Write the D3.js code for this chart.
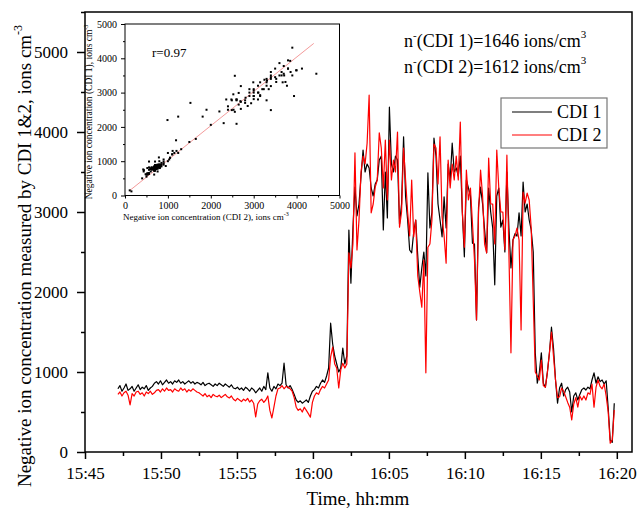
<!DOCTYPE html>
<html>
<head>
<meta charset="utf-8">
<script src="https://cdn.jsdelivr.net/npm/d3@7"></script>
<style>
body { margin: 0; background: #fff; }
svg text { font-family: "Liberation Serif", "Times New Roman", serif; fill: #000; }
</style>
</head>
<body>
<script>
// both counters logged every 8 s, first reading at 15:47:10
const startTime = "15:47:10"
const sampleSec = 8

// CDI 1 (black), ions cm-3
const cdi1 = [
  790, 830, 760, 800, 850, 770, 790, 820, 760, 800,
  840, 780, 810, 790, 830, 770, 800, 820, 860, 880,
  850, 890, 840, 870, 900, 860, 880, 850, 890, 870,
  900, 860, 880, 850, 870, 890, 860, 880, 850, 870,
  860, 840, 870, 830, 850, 860, 840, 820, 850, 830,
  860, 840, 820, 850, 830, 810, 840, 800, 790, 810,
  780, 800, 770, 810, 790, 760, 800, 780, 740, 770,
  800, 760, 820, 780, 990, 800, 760, 820, 790, 850,
  830, 860, 1110, 840, 800, 830, 780, 720, 650, 620,
  640, 610, 630, 650, 620, 700, 760, 780, 820, 800,
  860, 900, 870, 950, 1050, 1610, 1350, 1200, 1100, 1000,
  1050, 1300, 1100, 1200, 2775, 2110, 2800, 3310, 2950, 3100,
  3450, 3775, 3500, 3600, 3550, 3300, 3200, 3350, 3400, 3650,
  3700, 2775, 3500, 2925, 4310, 3600, 3500, 3700, 3650, 2850,
  3100, 3940, 3190, 2900, 2525, 2490, 2750, 2900, 2450, 2060,
  2300, 2500, 2200, 3490, 2800, 3000, 3925, 3700, 3100, 2900,
  2690, 3190, 2800, 3600, 3400, 3860, 3500, 3550, 3450, 3700,
  3000, 2440, 3400, 3300, 3200, 2610, 2600, 1650, 3060, 3310,
  3100, 2775, 2490, 3300, 3000, 2800, 2090, 3200, 3300, 2810,
  2900, 2500, 3500, 2800, 2300, 2650, 2730, 2700, 2990, 2700,
  3375, 3000, 3100, 2900, 2775, 2500, 1240, 860, 990, 1240,
  860, 810, 1000, 1240, 1560, 1300, 900, 610, 800, 860,
  700, 780, 810, 750, 500, 700, 740, 650, 720, 780,
  800, 775, 810, 790, 900, 990, 860, 940, 880, 900,
  850, 890, 550, 150, 120, 610
]

// CDI 2 (red), ions cm-3
const cdi2 = [
  720, 750, 700, 740, 760, 710, 590, 730, 700, 750,
  760, 720, 740, 700, 750, 730, 760, 720, 740, 770,
  780, 750, 790, 760, 800, 770, 780, 750, 790, 770,
  760, 800, 770, 790, 750, 780, 760, 790, 770, 750,
  740, 720, 700, 730, 690, 710, 680, 720, 700, 690,
  710, 680, 700, 720, 690, 675, 700, 660, 640, 670,
  650, 630, 660, 640, 670, 625, 650, 610, 440, 600,
  640, 660, 620, 650, 700, 520, 425, 560, 700, 790,
  800, 830, 790, 820, 810, 790, 760, 680, 560, 520,
  540, 500, 560, 520, 480, 435, 620, 700, 740, 720,
  780, 820, 800, 850, 900, 1190, 1310, 1100, 1050, 800,
  1030, 1110, 1050, 1100, 2490, 2300, 2600, 3740, 2525, 2900,
  3500, 3700, 3600, 3860, 4460, 2990, 3100, 3310, 3400, 3990,
  3800, 3300, 3900, 3150, 3900, 3400, 3650, 3500, 4000, 2810,
  3000, 3800, 3400, 3000, 2700, 3400, 2690, 2900, 2200, 2000,
  1810, 2400, 990, 2560, 2600, 2900, 3850, 3800, 3350, 3940,
  2940, 2700, 2360, 3650, 3300, 3600, 3400, 3700, 3400, 4125,
  3000, 2560, 3525, 3150, 3300, 2860, 2400, 1650, 3000, 3525,
  3200, 2600, 2490, 3675, 3100, 3100, 2600, 3775, 3300, 3000,
  3000, 2530, 3710, 2480, 1240, 2650, 2700, 2800, 2650, 1525,
  3250, 3110, 3235, 3150, 2800, 1900, 1000, 950, 900, 1150,
  830, 810, 1000, 1240, 1500, 1200, 900, 680, 690, 800,
  760, 690, 620, 560, 400, 600, 680, 560, 700, 650,
  700, 650, 740, 720, 850, 560, 810, 900, 820, 790,
  850, 700, 500, 110, 150, 525
]

const seriesNames = ["CDI 1", "CDI 2"]
const seriesColors = ["#000000", "#ff0000"]
const meanValues = [1646, 1612]

const xTickLabels = ["15:45", "15:50", "15:55", "16:00", "16:05", "16:10", "16:15", "16:20"]
const yTicks = [0, 1000, 2000, 3000, 4000, 5000]
const insetTicks = [0, 1000, 2000, 3000, 4000, 5000]

// inset: CDI 1 vs CDI 2, linear fit
const rValue = 0.97
const fitSlope = 1.0
const fitIntercept = 34
const fitRange = [100, 4400]

const serif = '"Liberation Serif", "Times New Roman", serif'

const parseHMS = (s) => {
    let p = s.split(':').map(Number)
    return new Date(2000, 0, 1, p[0], p[1], p[2] || 0)
}
const t0 = parseHMS(startTime)
const timeAt = (i) => new Date(t0.getTime() + i * sampleSec * 1000)

let svg = d3.select('body').append('svg')
            .attr('width', 638)
            .attr('height', 515)

// main plot box
let plot = {left: 85, right: 632, top: 12, bottom: 452}

let x = d3.scaleTime()
            .domain([parseHMS("15:45"), parseHMS("16:21")])
            .range([plot.left, plot.right])
let y = d3.scaleLinear()
            .domain([0, 5500])
            .range([plot.bottom, plot.top])

// major + minor ticks
let xMajor = xTickLabels.map(parseHMS)
let xMinor = xMajor.map(d => new Date(d.getTime() + 150000)).filter(d => d < x.domain()[1])
let yMinor = yTicks.map(d => d + 500)

const styleAxis = (g, size) => {
    g.attr('font-family', serif)
    g.select('.domain').remove()
    g.selectAll('line').attr('stroke-width', size > 12 ? 1.5 : 1)
    g.selectAll('text').style('font-size', size + 'px')
}

svg.append('g')
    .attr('transform', 'translate(0,' + plot.bottom + ')')
    .call(d3.axisBottom(x).tickValues(xMajor).tickFormat(d3.timeFormat('%H:%M'))
            .tickSize(7).tickSizeOuter(0).tickPadding(8))
    .call(g => styleAxis(g, 17))
svg.append('g')
    .attr('transform', 'translate(0,' + plot.bottom + ')')
    .call(d3.axisBottom(x).tickValues(xMinor).tickFormat('').tickSize(4).tickSizeOuter(0))
    .call(g => styleAxis(g, 17))

svg.append('g')
    .attr('transform', 'translate(' + plot.left + ',0)')
    .call(d3.axisLeft(y).tickValues(yTicks).tickFormat(d3.format('d'))
            .tickSize(8).tickSizeOuter(0).tickPadding(9))
    .call(g => styleAxis(g, 17))
svg.append('g')
    .attr('transform', 'translate(' + plot.left + ',0)')
    .call(d3.axisLeft(y).tickValues(yMinor).tickFormat('').tickSize(4).tickSizeOuter(0))
    .call(g => styleAxis(g, 17))

svg.append('rect')
    .attr('x', plot.left).attr('y', plot.top)
    .attr('width', plot.right - plot.left)
    .attr('height', plot.bottom - plot.top)
    .style('fill', 'none').style('stroke', '#000').style('stroke-width', 1.5)

// time series
let line = d3.line()
            .x((d, i) => x(timeAt(i)))
            .y(d => y(d))
;[cdi1, cdi2].forEach((s, k) => {
    svg.append('path')
        .datum(s)
        .attr('d', line)
        .style('fill', 'none')
        .style('stroke', seriesColors[k])
        .style('stroke-width', 1.2)
        .style('stroke-linejoin', 'round')
})

// axis titles
let ytitle = svg.append('text')
                .attr('transform', 'translate(31,256) rotate(-90)')
                .attr('text-anchor', 'middle')
                .style('font-size', '19px')
ytitle.append('tspan').text('Negative ion concentration measured by CDI 1&2, ions cm')
ytitle.append('tspan').attr('dy', -9).style('font-size', '12px').text('-3')

svg.append('text')
    .attr('x', 358).attr('y', 505)
    .attr('text-anchor', 'middle')
    .style('font-size', '19px')
    .text('Time, hh:mm')

// mean annotations
meanValues.forEach((m, k) => {
    let t = svg.append('text')
                .attr('x', 404).attr('y', 47 + k * 26)
                .style('font-size', '18px')
    t.append('tspan').text('n')
    t.append('tspan').attr('dy', -8).style('font-size', '11px').text('-')
    t.append('tspan').attr('dy', 8).text('(' + seriesNames[k] + ')=' + m + ' ions/cm')
    t.append('tspan').attr('dy', -9).style('font-size', '11px').text('3')
})

// legend
let legend = svg.append('g')
legend.append('rect')
    .attr('x', 501).attr('y', 98).attr('width', 106).attr('height', 50)
    .style('fill', '#fff').style('stroke', '#777').style('stroke-width', 1.2)
seriesNames.forEach((n, k) => {
    legend.append('line')
        .attr('x1', 512).attr('x2', 552)
        .attr('y1', 112 + k * 23).attr('y2', 112 + k * 23)
        .style('stroke', seriesColors[k]).style('stroke-width', 1.2)
    legend.append('text')
        .attr('x', 557).attr('y', 118 + k * 23)
        .style('font-size', '18px')
        .text(n)
})

// ---- inset scatter ----
let ip = {left: 125, right: 339.5, top: 24, bottom: 195.5}
let ix = d3.scaleLinear().domain([0, 5000]).range([ip.left, ip.right])
let iy = d3.scaleLinear().domain([0, 5000]).range([ip.bottom, ip.top])
let inset = svg.append('g')
let insetMinor = insetTicks.slice(0, -1).map(d => d + 500)

inset.append('g')
    .attr('transform', 'translate(0,' + ip.bottom + ')')
    .call(d3.axisBottom(ix).tickValues(insetTicks).tickFormat(d3.format('d'))
            .tickSize(3).tickSizeOuter(0).tickPadding(3))
    .call(g => styleAxis(g, 10))
inset.append('g')
    .attr('transform', 'translate(0,' + ip.bottom + ')')
    .call(d3.axisBottom(ix).tickValues(insetMinor).tickFormat('').tickSize(2).tickSizeOuter(0))
    .call(g => styleAxis(g, 10))
inset.append('g')
    .attr('transform', 'translate(' + ip.left + ',0)')
    .call(d3.axisLeft(iy).tickValues(insetTicks).tickFormat(d3.format('d'))
            .tickSize(4).tickSizeOuter(0).tickPadding(4))
    .call(g => styleAxis(g, 10))
inset.append('g')
    .attr('transform', 'translate(' + ip.left + ',0)')
    .call(d3.axisLeft(iy).tickValues(insetMinor).tickFormat('').tickSize(2).tickSizeOuter(0))
    .call(g => styleAxis(g, 10))

inset.append('rect')
    .attr('x', ip.left).attr('y', ip.top)
    .attr('width', ip.right - ip.left).attr('height', ip.bottom - ip.top)
    .style('fill', 'none').style('stroke', '#000').style('stroke-width', 1)

// fit line
inset.append('line')
    .attr('x1', ix(fitRange[0])).attr('y1', iy(fitSlope * fitRange[0] + fitIntercept))
    .attr('x2', ix(fitRange[1])).attr('y2', iy(fitSlope * fitRange[1] + fitIntercept))
    .style('stroke', '#f08080').style('stroke-width', 0.8)

// one point per reading pair
let pairs = cdi2.map((v, i) => [v, cdi1[i]])
inset.selectAll('.pt')
    .data(pairs)
    .join('rect')
    .classed('pt', true)
    .attr('x', d => ix(d[0]) - 1)
    .attr('y', d => iy(d[1]) - 1)
    .attr('width', 2).attr('height', 2)
    .style('fill', '#000')

inset.append('text')
    .attr('x', 152).attr('y', 57)
    .style('font-size', '13px')
    .text('r=' + rValue)

let ixt = inset.append('text')
            .attr('x', 123).attr('y', 220)
            .style('font-size', '9px')
ixt.append('tspan').text('Negative ion concentration (CDI 2), ions cm')
ixt.append('tspan').attr('dy', -4).style('font-size', '6px').text('-3')

let iyt = inset.append('text')
            .attr('transform', 'translate(92,112) rotate(-90)')
            .attr('text-anchor', 'middle')
            .style('font-size', '9.5px')
iyt.append('tspan').text('Negative ion concentration (CDI 1), ions cm')
iyt.append('tspan').attr('dy', -4).style('font-size', '6px').text('-3')
</script>
</body>
</html>
